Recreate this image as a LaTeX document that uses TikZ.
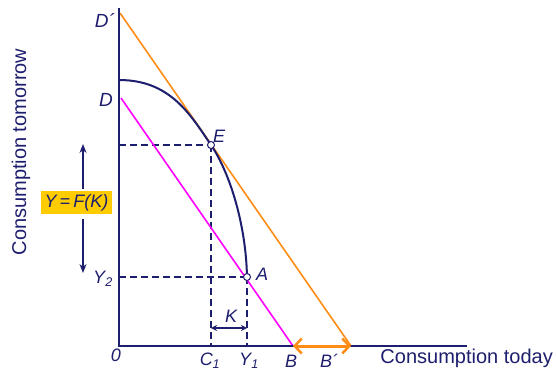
\documentclass[tikz,border=0pt]{standalone}
\usepackage{fontspec}
\setmainfont{Liberation Sans}
\usetikzlibrary{arrows.meta}
\definecolor{navy}{RGB}{30,30,110}
\definecolor{orng}{RGB}{255,140,20}
\definecolor{mag}{RGB}{255,0,255}
\definecolor{ylw}{RGB}{255,204,0}
\begin{document}
\begin{tikzpicture}[x=1pt,y=-1pt,
  lbl/.style={text=navy,font=\fontsize{18}{20}\selectfont\itshape,inner sep=0pt},
  axlbl/.style={text=navy,font=\fontsize{20}{22}\selectfont,inner sep=0pt},
  axis/.style={draw=navy,line width=2.8pt},
  guide/.style={draw=navy,line width=1.5pt,dash pattern=on 7pt off 4pt},
  budget/.style={line width=1.6pt},
  pt/.style={circle,draw=navy,fill=white,line width=1pt,minimum size=7pt,inner sep=0pt}]
\useasboundingbox (0,0) rectangle (556,372);
% key points
\coordinate (O) at (119,346);
\coordinate (ytop) at (119,8);
\coordinate (xend) at (467,346);
\coordinate (Dp) at (120,13);
\coordinate (Bp) at (351,346);
\coordinate (D) at (121,98);
\coordinate (B) at (293,346);
\coordinate (E) at (211,145);
\coordinate (A) at (247,277);
\coordinate (Ey) at (119,145);
\coordinate (Ay) at (119,277);
\coordinate (Ex) at (211,346);
\coordinate (Ax) at (247,346);
\coordinate (Ctop) at (119,80);
% dashed guides
\draw[guide] (Ey) -- (E);
\draw[guide] (E) -- (Ex);
\draw[guide] (Ay) -- (A);
\draw[guide] (A) -- (Ax);
% budget lines
\draw[budget,mag] (D) -- (B);
\draw[budget,orng] (Dp) -- (Bp);
% production frontier
\draw[navy,line width=2pt] (Ctop) .. controls (170,80) and (190,114) .. (E)
  .. controls (230,173) and (246,225) .. (A);
% axes
\draw[axis] (ytop) -- (119,347.4);
\draw[axis] (117.6,346) -- (xend);
% shift arrow B-B'
\draw[orng,line width=3pt,{Straight Barb[length=7pt,width=15pt,line width=2.5pt]}-{Straight Barb[length=7pt,width=15pt,line width=2.5pt]}] (B) -- (Bp);
% K arrow
\coordinate (K1) at (211,328);
\coordinate (K2) at (247,328);
\draw[navy,line width=1.2pt,{Stealth[length=6pt,width=6pt]}-{Stealth[length=6pt,width=6pt]}] (K1) -- (K2);
\node[lbl] (Klab) at (231,316) {K};
% points
\node[pt] (Ept) at (E) {};
\node[pt] (Apt) at (A) {};
% Y=F(K)
\node[fill=ylw,text=navy,font=\fontsize{18}{20}\selectfont\itshape,minimum width=71pt,minimum height=23pt,inner sep=0pt] (yfk) at (76.5,202.5) {Y\,=\,F(K)};
\coordinate (up1) at (83,189);
\coordinate (up2) at (83,144);
\coordinate (dn1) at (83,219);
\coordinate (dn2) at (83,273);
\draw[navy,line width=1.3pt,-{Stealth[length=9pt,width=7pt]}] (up1) -- (up2);
\draw[navy,line width=1.3pt,-{Stealth[length=9pt,width=7pt]}] (dn1) -- (dn2);
% labels
\node[lbl,font=\fontsize{19}{20}\selectfont\itshape] (Dplab) at (105,21) {D´};
\node[lbl,font=\fontsize{19}{20}\selectfont\itshape] (Dlab) at (106,100) {D};
\node[lbl] (Elab) at (219,136) {E};
\node[lbl] (Alab) at (262,274) {A};
\node[lbl] (Y2lab) at (103,279) {Y\textsubscript{2}};
\node[lbl] (Olab) at (116,355) {0};
\node[lbl] (C1lab) at (210,361) {C\textsubscript{1}};
\node[lbl] (Y1lab) at (249,361) {Y\textsubscript{1}};
\node[lbl] (Blab) at (291,361) {B};
\node[lbl] (Bplab) at (329,361) {B´};
\node[axlbl,anchor=base east] (xlab) at (553,363) {Consumption today};
\node[axlbl,rotate=90] (ylab) at (21,152) {Consumption tomorrow};
\end{tikzpicture}
\end{document}
